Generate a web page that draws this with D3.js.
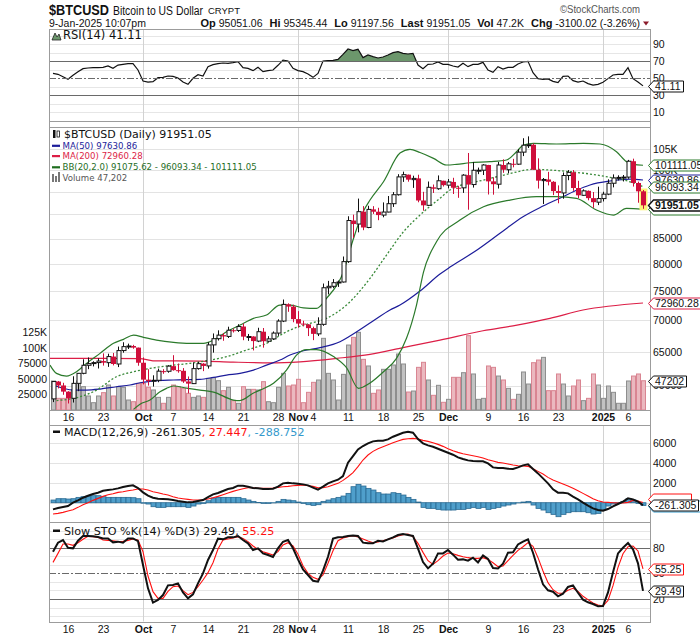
<!DOCTYPE html>
<html><head><meta charset="utf-8">
<script src="https://cdn.jsdelivr.net/npm/d3@7"></script>
<style>body{margin:0;background:#fff}svg{display:block}</style>
</head><body>
<svg id="c" width="700" height="639"></svg>
<script>
// ---------------- DATA ----------------
const firstDay = "2024-09-13";
const lastDay = "2025-01-09";
const open = [58130,60570,60010,59140,58210,60310,61760,62950,63200,63350,
63580,63340,64260,63140,65180,65790,65890,65640,63330,60840,
60630,60750,62080,62060,62820,62220,62130,60580,60270,62450,
63190,62850,66060,67040,67610,67400,68400,68360,69000,67370,
67390,66660,68160,66640,67010,67940,69900,72720,72340,70220,
69480,69350,68740,67810,69360,75640,75900,76550,76680,80470,
88700,87960,90580,87250,91070,90570,89850,90500,92310,94290,
98360,98880,97720,98010,93010,91950,95960,95640,97460,96450,
97190,95860,95840,98770,96590,99920,99930,101170,97320,96670,
101170,100040,101460,101370,104300,106030,106140,100040,97490,97760,
97220,95100,94690,98680,99430,95800,94160,95160,93530,92640,
93430,94420,96890,98110,98240,98310,102080,96950,95051.06];
const high = [60640,60650,60390,59200,61330,61790,63850,64130,63550,63990,
64750,64700,64820,65800,66480,66260,66070,65640,64130,62360,
61470,62450,62370,62970,64470,63200,62530,61300,63380,63450,
63270,66500,67880,68380,67940,68970,68670,69380,69500,67800,
67430,68800,68760,67440,68200,70200,73560,72900,72660,71560,
69950,69390,68980,70520,76400,76880,77210,76940,81450,89600,
89950,93430,91780,91850,91770,91420,92590,94000,94880,98990,
99590,98900,98640,98870,94940,97290,96600,98700,97470,97860,
98150,96300,99000,104090,101900,100550,101370,101200,98270,101900,
102540,101900,102650,105050,107790,108270,106470,102780,98100,99540,
97380,96400,99400,99960,99960,97450,95500,95250,94900,96100,
94960,97800,98950,98730,98800,102400,102700,97260,95345.44];
const low = [57690,59590,58700,57500,57630,59200,61620,62370,62780,62470,
62900,62710,62930,62680,64850,65420,65460,62880,60160,59990,
59850,60470,61690,61850,62150,61850,60380,58900,60220,62300,
62080,62450,64860,66750,66710,67150,68030,68120,66800,66700,
65200,66500,65630,66440,66830,67490,69730,71450,69700,68820,
69020,67460,66810,67460,69120,74460,75560,75790,76580,80230,
85130,86250,86690,87100,90100,88770,89380,90440,91600,94100,
97200,97250,95830,92620,90790,91830,94680,95400,96140,95720,
94450,93600,94700,91000,95900,99000,98800,94340,94300,95680,
99310,99200,100610,101230,103330,105330,100000,95680,92230,96400,
94200,92400,93400,97590,95160,93500,94050,93050,91400,92000,
92800,94200,95950,97530,97300,97920,96130,92520,91197.56];
const close = [60570,60010,59140,58210,60310,61760,62950,63200,63350,63580,
63340,64260,63140,65180,65790,65890,65640,63330,60840,60630,
60750,62080,62060,62820,62220,62130,60580,60270,62450,63190,
62850,66060,67040,67610,67400,68400,68360,69000,67370,67390,
66660,68160,66640,67010,67940,69900,72720,72340,70220,69480,
69350,68740,67810,69360,75640,75900,76550,76680,80470,88700,
87960,90580,87250,91070,90570,89850,90500,92310,94290,98360,
98880,97720,98010,93010,91950,95960,95640,97460,96450,97190,
95860,95840,98770,96590,99920,99930,101170,97320,96670,101170,
100040,101460,101370,104300,106030,106140,100040,97490,97760,97220,
95100,94690,98680,99430,95800,94160,95160,93530,92640,93430,
94420,96890,98110,98240,98310,102080,96950,95050,91951.05];
const volume = [46800,18800,18800,20400,32300,46800,37600,22600,11800,22600,
28000,40300,22600,37600,36600,16100,13400,43000,43000,36600,
32300,20400,10800,20400,40300,37600,34900,26900,20400,22600,
20400,51100,52100,47300,31200,36600,15100,10800,37600,33300,
33300,32300,45700,13400,11800,36600,59100,38700,40300,49500,
11800,28500,44600,48400,115600,59100,48400,16100,57500,104800,
117200,125300,81700,71000,26900,32300,65600,65600,72600,90300,
74200,29000,30600,68800,76900,48400,23700,39800,12400,17200,
52700,52700,60200,119900,58100,17200,18800,71000,68800,54800,
48400,34900,17200,25300,61300,41900,76300,80600,84900,31200,
31200,58100,41900,22600,38700,48400,15100,18800,58100,40300,
18800,38700,28500,10800,10800,46800,54800,58100,47202];

// overlays read at sample points: day offset from firstDay -> value
const ma50Day = [0,4.1,6.7,9.4,12.7,15.4,17.4,19.4,24.1,29.4,32.1,34.7,37.4,40.1,42.7,45.4,47.4,50.1,53.4,57.4,59.4,64,67.4,69.4,73.4,77.4,79.4,84.8,89.4,94,98,102,104.8,107.4,111.4,115.4,118];
const ma50 = [60070,59360,59360,59500,59830,60070,60400,60600,60790,60880,61170,61510,61750,62240,62980,63730,64490,65150,65630,66560,67460,69900,71750,72600,75050,78140,79440,82710,86050,89500,91790,93850,95350,96490,97400,97840,97630.86];
const ma200Day = [-0.8,10,17.4,20,29.4,36,43.4,49.4,56.8,63.4,70,77.4,86,92.8,99.4,106,118];
const ma200 = [63990,63990,63950,63620,63570,63420,63320,63470,63990,64600,65630,66820,68310,69240,70350,71750,72960.28];
const bbUpperDay = [-0.6,0.7,2.7,4.7,6.7,9.4,12.1,14.1,16.1,18.1,20.7,24.1,27.4,30.1,32.1,34.7,37.4,40.1,42.7,45.4,47.4,50.1,52.7,54.7,58.1,60,62,63.4,66.1,69.4,71.4,73.4,76.1,78.7,80.7,83.4,87.4,90.7,92.7,94.1,96.1,100.7,106.1,109.4,112.7,114.7,116.1,118];
const bbUpper = [62980,61750,61360,61990,63230,64750,66310,66940,67620,67250,66820,66460,66310,66310,66820,68150,69240,70350,70900,72600,72600,72130,72040,73770,78570,84690,90500,93110,97240,104080,105000,104200,102780,101170,101330,101710,101960,102370,104400,106080,106500,106330,106500,106330,104400,101960,101330,101111.05];
const bbMidDay = [0.7,5.4,8.7,12.7,16.1,19.4,24.1,27.4,30.7,34.7,38.7,42.7,46.1,47.4,51.4,54.7,58.7,63.4,66.7,70.1,73.4,77.4,79.4,86.1,89.4,92.7,95.7,99.4,103.4,107.4,111.4,114.7,118];
const bbMid = [57900,58420,59350,61260,61990,62480,62980,63230,63630,64240,65260,66310,67890,68430,69520,70350,72600,77340,81730,86370,89860,93490,95350,97630,98560,99500,100140,99970,99570,99030,98260,97470,96093.34];
const bbLowerDay = [16.1,17.4,19.4,21.4,22.7,24.1,26.7,29.4,32.1,36.1,37.4,40.1,41.4,44.1,46.7,48.7,50.7,52.7,56.1,58.7,61.1,63.4,66.1,68.7,70.7,72.7,74.1,76.7,81.4,86.1,91.4,96.7,100.7,104.7,108.7,112.1,114.7,118];
const bbLower = [56700,57410,57970,59120,59600,59930,59640,59350,59080,57970,57900,58940,59350,60310,62240,64490,65340,65340,64260,62600,59600,60360,61990,63990,67100,72600,78510,84350,88800,91640,93110,93850,93850,93490,90940,89860,91300,91075.62];

const rsi = [55.8,54.7,51.9,48.8,53.5,57.8,61.3,62.1,62.5,62.5,
62.9,64.5,61.7,65.6,66.4,67.2,67.2,59.8,46.8,45.6,
46,50.7,51.1,52.7,52.3,50.4,45.6,42.9,50,54.3,
52.7,63.7,66,67.2,68,67.6,68.4,69.6,62.5,61.7,
59,62.9,57.8,59,59.8,65.3,71.5,70.4,61.7,59,
57.8,55,51.1,55.8,70.4,70.8,71.1,72.3,78.2,84.5,
82.5,84.1,74.3,77.4,75.5,73.9,75.1,77.4,80.2,81.4,
79.4,78.6,79.4,65.6,61.3,66.4,66.8,69.2,66.4,66.4,
64.5,63.3,67.6,63.7,66.4,66.4,68.8,59.8,57,63.7,
60.9,62.9,62.9,66.8,69.2,70,56.6,49.6,48.8,49.2,
46.4,44.9,52.3,52.7,47.2,45.6,46.8,43.7,42.1,42.9,
45.3,49.6,53.9,54.7,54.7,62.5,49.6,45.6,41.11];
const macd = [-667,-533,-433,-333,0,233,500,700,867,1000,
1200,1267,1333,1433,1567,1667,1733,1467,1033,700,
500,400,367,333,267,167,100,33,67,167,
267,567,833,967,1167,1367,1467,1700,1700,1600,
1467,1433,1367,1367,1400,1600,1933,2000,1933,1900,
1833,1733,1500,1300,1600,1933,2133,2300,2667,4000,
4667,5333,5667,5933,6133,6200,6200,6333,6600,6800,
7000,7100,7000,6367,5933,5733,5600,5400,5200,5000,
4800,4533,4367,4233,4167,4133,4133,3933,3533,3467,
3467,3400,3367,3533,3733,3833,3367,2933,2433,1933,
1333,1000,1000,933,600,333,0,-300,-567,-733,
-800,-633,-367,-133,100,433,333,100,-261.305];
const macdSignal = [-1133,-1067,-967,-833,-700,-467,-200,0,233,433,
633,800,900,1033,1100,1200,1267,1367,1367,1267,
1100,1000,867,767,600,467,400,333,267,267,
267,367,500,633,800,967,1133,1267,1400,1500,
1500,1433,1433,1433,1467,1533,1600,1633,1700,1733,
1767,1700,1633,1500,1500,1600,1767,1933,2233,2600,
3000,3600,4267,4767,5133,5400,5600,5800,6000,6167,
6333,6400,6433,6367,6233,6133,6000,5833,5633,5400,
5200,5033,4900,4800,4700,4600,4467,4300,4167,4033,
3967,3867,3767,3700,3667,3633,3400,3133,2867,2533,
2267,2067,1867,1667,1433,1200,933,667,400,200,
67,33,0,-33,-33,33,233,167,27.447];
const macdHist = [267,400,400,367,400,533,600,667,700,700,
600,533,533,533,533,533,500,400,-50,-133,
-400,-467,-467,-400,-400,-400,-400,-467,-333,-133,
-67,200,467,533,533,533,533,533,400,267,
133,20,-67,-67,-20,133,333,267,200,67,
-67,-200,-267,-200,133,267,400,533,667,933,
1600,1833,1667,1433,1267,1000,867,867,1000,933,
767,533,333,67,-467,-567,-567,-667,-733,-733,
-733,-667,-667,-567,-467,-567,-467,-667,-567,-467,
-333,-233,-133,-20,67,133,-233,-567,-733,-1000,
-1167,-1400,-1167,-1000,-900,-900,-900,-1000,-1133,-1067,
-667,-333,-133,-20,133,400,267,-67,-288.752];
const stoK = [75.3,85.8,88.9,79.9,79.2,88.1,93.6,93.6,93.2,92.4,
90.8,90.8,86.2,87,85.8,90.8,90.8,87.7,59.7,32.5,
15.8,18.9,24.7,36,36.4,38.3,27.8,20.8,25.5,38.3,
50,65.6,77.2,90.5,89.7,92,92,93.6,88.9,85,
77.2,79.2,73.3,71.4,69.1,79.2,86.9,88.9,79.2,66.3,
54.7,48.1,41.4,40.3,53.1,69.4,90.5,92,92.4,93.6,
94.3,93.6,85.8,85,85,88.1,87.3,89.7,92,94.7,
95.9,94.7,93.6,78.8,63.2,55.8,61.3,73.3,73.3,77.2,
71.8,65.9,66.3,64.8,68.3,62.8,71,66.7,56.2,55.8,
61.3,74.1,74.5,83.8,87,89.7,74.1,54.7,37.2,30.2,
28.6,23.2,26.3,34.1,36,27.4,19.3,16.2,14.2,11.5,
11.9,27.8,51.2,73.3,79.9,85.4,78,61.7,29.49];
const stoD = [62.8,73.3,84.2,84.2,82.7,85.8,89.7,93.2,92.8,92,
88.9,88.5,88.1,87,87.3,88.5,90,88.9,75.3,46.9,
28.6,20.8,20.8,29,34.4,35.2,29.8,25.1,27.8,34.4,
42.2,50.8,62.4,78.4,88.9,90,91.2,92.8,90.8,87,
81.9,78,75.3,73.3,71.4,75.3,83.1,85.8,81.9,72.2,
58.9,50,45.3,43,48.1,61.7,76.4,88.1,91.2,92.8,
94,92.4,90,87.7,85.8,86.6,88.1,89.7,91.2,93.6,
95.1,95.9,92.8,85,74.5,64.8,60.5,64.8,70.2,73.7,
72.9,71,69.4,68.3,67.5,67.5,68.3,66.3,62.4,57.8,
58.6,64.8,71,76.8,81.1,85.8,81.5,68.3,52.7,39.1,
30.9,26.7,26.7,30.2,32.5,29,23.2,19.3,15.4,13,
11.9,18.5,35.6,57,72.9,81.1,81.9,76.1,55.25];

const priceTicks = [60000,65000,70000,75000,80000,85000,90000,95000,100000,105000];
const priceLabelTicks = [60000,65000,70000,75000,80000,85000,100000,105000];
const volumeTicks = [25000,50000,75000,100000,125000];
const rsiTicks = [10,30,50,70,90];
const stoTicks = [20,50,80];
const macdTicks = [2000,4000,6000];
const macdGridVals = [-2000,0,2000,4000,6000];
const dateTicks = ["2024-09-16","2024-09-23","2024-10-01","2024-10-07","2024-10-14","2024-10-21","2024-10-28","2024-11-01","2024-11-04","2024-11-11","2024-11-18","2024-11-25","2024-12-01","2024-12-09","2024-12-16","2024-12-23","2025-01-01","2025-01-06"];
const dateTickLabels = ["16","23","Oct","7","14","21","28","Nov","4","11","18","25","Dec","9","16","23","2025","6"];
const monthStarts = ["2024-10-01","2024-11-01","2024-12-01","2025-01-01"];

// ---------------- LAYOUT ----------------
const FONT = "'Liberation Sans', Arial, sans-serif";
const VFONT = "'DejaVu Sans', Verdana, sans-serif";
const RED = "#cf0f3b";
const L = 49, R = 650;
const P = {rsi:[29,121], main:[127,410], macd:[425,521.5], sto:[521.5,621.5]};
const DAY = 864e5;
const parse = d3.utcParse("%Y-%m-%d");
const t0 = parse(firstDay).getTime();
const dates = d3.utcDay.range(parse(firstDay), d3.utcDay.offset(parse(lastDay), 1));
const x = d3.scaleUtc().domain([new Date(t0 - 0.8*DAY), new Date(t0 + 119.4*DAY)]).range([L, R]);
const xd = d => x(new Date(t0 + d*DAY));

const yRsi = d3.scaleLinear().domain([0,100]).range([120.8, 35.8]);
const yPrice = d3.scaleLog().domain([56620,110700]).range([410,127]);
const yVol = d3.scaleLinear().domain([0,25000]).range([410,394.5]);
const yMacd = d3.scaleLinear().domain([0,2000]).range([502.7,482.7]);
const ySto = d3.scaleLinear().domain([0,100]).range([616.2,530.5]);

const svg = d3.select("#c");
svg.append("rect").attr("width",700).attr("height",639).attr("fill","#fff");
const defs = svg.append("defs");
Object.entries(P).forEach(([k,[a,b]]) => {
  defs.append("clipPath").attr("id","clip-"+k).append("rect").attr("x",L).attr("y",a).attr("width",R-L).attr("height",b-a);
});
const crisp = v => Math.round(v) + 0.5;

// grids
function hGrid(vals, y, color, panel) {
  svg.append("g").selectAll("line").data(vals).join("line")
    .attr("x1",L).attr("x2",R).attr("y1",d=>crisp(y(d))).attr("y2",d=>crisp(y(d)))
    .attr("stroke",color).attr("stroke-width",1).attr("clip-path","url(#clip-"+panel+")");
}
hGrid(d3.range(0,101,10).filter(v=>v!==30&&v!==50&&v!==70), yRsi, "#e6e6e6", "rsi");
hGrid(priceTicks, yPrice, "#e3e3e3", "main");
hGrid(macdGridVals, yMacd, "#e3e3e3", "macd");
hGrid(d3.range(0,101,10).filter(v=>v!==20&&v!==50&&v!==80), ySto, "#e6e6e6", "sto");
Object.entries(P).forEach(([k,[a,b]]) => {
  svg.append("g").selectAll("line").data(monthStarts).join("line")
    .attr("x1",d=>crisp(x(parse(d)))).attr("x2",d=>crisp(x(parse(d))))
    .attr("y1",a).attr("y2",b).attr("stroke","#d2d2d2");
});

function refLine(v, y, dash) {
  svg.append("line").attr("x1",L).attr("x2",R).attr("y1",crisp(y(v))).attr("y2",crisp(y(v)))
    .attr("stroke","#6a6a6a").attr("stroke-dasharray",dash||null);
}

// ---------------- RSI ----------------
const gR = svg.append("g").attr("clip-path","url(#clip-rsi)");
defs.append("clipPath").attr("id","clip-rsi70").append("rect").attr("x",L).attr("y",P.rsi[0]).attr("width",R-L).attr("height",yRsi(70)-P.rsi[0]);
gR.append("path").attr("clip-path","url(#clip-rsi70)")
  .attr("d", d3.area().x((d,i)=>x(dates[i])).y0(yRsi(70)).y1(d=>yRsi(d))(rsi))
  .attr("fill","#6c976c");
refLine(70,yRsi); refLine(30,yRsi); refLine(50,yRsi,"7,2,2,2");
gR.append("path").attr("d", d3.line().x((d,i)=>x(dates[i])).y(d=>yRsi(d))(rsi))
  .attr("fill","none").attr("stroke","#111").attr("stroke-width",1.2);

// ---------------- MAIN ----------------
const gM = svg.append("g").attr("clip-path","url(#clip-main)");
const upDay = i => i===0 ? close[0]>=open[0] : close[i]>=close[i-1];
gM.append("g").selectAll("rect").data(volume).join("rect")
  .attr("x",(d,i)=>Math.round(x(dates[i]))-2+0.5).attr("width",4)
  .attr("y",d=>yVol(d)).attr("height",d=>yVol(0)-yVol(d))
  .attr("fill",(d,i)=>upDay(i)?"#c2c2c2":"#ebb8bf")
  .attr("stroke",(d,i)=>upDay(i)?"#8e8e8e":"#d98592").attr("stroke-width",1);

const ovl = (days, vals, color, w, dash) => gM.append("path")
  .attr("d", d3.line().curve(d3.curveMonotoneX).x((d,i)=>xd(days[i])).y(d=>yPrice(d))(vals))
  .attr("fill","none").attr("stroke",color).attr("stroke-width",w).attr("stroke-dasharray",dash||null);
ovl(ma200Day, ma200, "#dc1e46", 1.2);
ovl(ma50Day, ma50, "#1c1c9a", 1.2);
ovl(bbUpperDay, bbUpper, "#2b7a2b", 1.2);
ovl(bbLowerDay, bbLower, "#2b7a2b", 1.2);
ovl(bbMidDay, bbMid, "#3a8a3a", 1.3, "2,2");

const li = close.length-1;
gM.append("rect").attr("x",Math.round(x(dates[li]))-3.5).attr("width",8)
  .attr("y",yPrice(high[li])-1.5).attr("height",yPrice(low[li])-yPrice(high[li])+3).attr("fill","#fbf57a");

const cg = gM.append("g").selectAll("g").data(close).join("g");
cg.append("line")
  .attr("x1",(d,i)=>crisp(x(dates[i]))).attr("x2",(d,i)=>crisp(x(dates[i])))
  .attr("y1",(d,i)=>yPrice(high[i])).attr("y2",(d,i)=>yPrice(low[i]))
  .attr("stroke",(d,i)=>upDay(i)?"#111":RED);
cg.append("rect")
  .attr("x",(d,i)=>Math.round(x(dates[i]))-1.5+ (close[i]>open[i]?0.5:-0.5))
  .attr("width",(d,i)=>close[i]>open[i]?4:5)
  .attr("y",(d,i)=>yPrice(Math.max(open[i],close[i])))
  .attr("height",(d,i)=>Math.max(1,Math.abs(yPrice(open[i])-yPrice(close[i]))))
  .attr("fill",(d,i)=>close[i]>open[i]?"#fff":(upDay(i)?"#111":RED))
  .attr("stroke",(d,i)=>close[i]>open[i]?"#111":"none").attr("stroke-width",1);

// ---------------- MACD ----------------
const gC = svg.append("g").attr("clip-path","url(#clip-macd)");
gC.append("g").selectAll("rect").data(macdHist).join("rect")
  .attr("x",(d,i)=>Math.round(x(dates[i]))-2.5+0.5).attr("width",5)
  .attr("y",d=>Math.min(yMacd(d),yMacd(0))).attr("height",d=>Math.abs(yMacd(d)-yMacd(0)))
  .attr("fill","#4f9fcb").attr("stroke","#2a6a92").attr("stroke-width",0.8);
gC.append("path").attr("d", d3.line().x((d,i)=>x(dates[i])).y(d=>yMacd(d))(macdSignal))
  .attr("fill","none").attr("stroke","#ff1010").attr("stroke-width",1.1);
gC.append("path").attr("d", d3.line().x((d,i)=>x(dates[i])).y(d=>yMacd(d))(macd))
  .attr("fill","none").attr("stroke","#111").attr("stroke-width",2);

// ---------------- STO ----------------
refLine(80,ySto); refLine(20,ySto); refLine(50,ySto,"7,2,2,2");
const gS = svg.append("g").attr("clip-path","url(#clip-sto)");
gS.append("path").attr("d", d3.line().x((d,i)=>x(dates[i])).y(d=>ySto(d))(stoD))
  .attr("fill","none").attr("stroke","#ff1010").attr("stroke-width",1.1);
gS.append("path").attr("d", d3.line().x((d,i)=>x(dates[i])).y(d=>ySto(d))(stoK))
  .attr("fill","none").attr("stroke","#111").attr("stroke-width",2);

// ---------------- FRAMES ----------------
Object.values(P).forEach(([a,b]) => {
  svg.append("rect").attr("x",L+0.5).attr("y",Math.round(a)+0.5).attr("width",R-L).attr("height",Math.round(b)-Math.round(a))
    .attr("fill","none").attr("stroke","#9c9c9c");
});
svg.append("line").attr("x1",L+0.5).attr("x2",L+0.5).attr("y1",29).attr("y2",622).attr("stroke","#9c9c9c");
svg.append("line").attr("x1",R+0.5).attr("x2",R+0.5).attr("y1",29).attr("y2",622).attr("stroke","#9c9c9c");

// ---------------- AXES ----------------
const kfmt = v => v>=100000 ? (v/1000)+"K" : String(v);
function rightAxis(scale, ticks, fmt) {
  const g = svg.append("g").attr("transform",`translate(${R+3},0)`)
    .call(d3.axisRight(scale).tickValues(ticks).tickFormat(fmt).tickSize(0).tickPadding(0));
  g.select(".domain").remove();
  g.selectAll("text").style("font-family",FONT).style("font-size","10.5px").attr("fill","#111");
}
rightAxis(yRsi, rsiTicks, d3.format("d"));
rightAxis(yPrice, priceLabelTicks, kfmt);
rightAxis(yMacd, macdTicks, d3.format("d"));
rightAxis(ySto, stoTicks, d3.format("d"));
{
  const g = svg.append("g").attr("transform",`translate(${L-2},0)`)
    .call(d3.axisLeft(yVol).tickValues(volumeTicks).tickFormat(kfmt).tickSize(0).tickPadding(0));
  g.select(".domain").remove();
  g.selectAll("text").style("font-family",FONT).style("font-size","10.5px").attr("fill","#111");
}
function bottomAxis(yPos) {
  const g = svg.append("g").attr("transform",`translate(0,${yPos})`)
    .call(d3.axisBottom(x).tickValues(dateTicks.map(parse)).tickFormat((d,i)=>dateTickLabels[i]).tickSize(0).tickPadding(0));
  g.select(".domain").remove();
  g.selectAll("text").style("font-family",FONT).style("font-size","10.5px").attr("fill","#111")
    .style("font-weight",(d,i)=>/^[A-Z2]/.test(dateTickLabels[i]) && dateTickLabels[i].length>2 ? "bold":"normal");
}
bottomAxis(413.5);
bottomAxis(625.5);

// ---------------- VALUE BOXES ----------------
function valueBox(yv, label, stroke, bold, sw, hidden) {
  const g = svg.append("g");
  const path = g.append("path");
  let w;
  if (hidden) { w = label.length * 5.6; }
  else {
    const t = g.append("text").attr("x",655).attr("y",yv).attr("dy","0.36em")
      .style("font-family",FONT).style("font-size","10.5px").style("font-weight",bold?"bold":"normal")
      .attr("fill","#111").text(label);
    w = t.node().getComputedTextLength();
  }
  const x0 = 648.5, x1 = Math.round(655+w+2)+0.5, h = 5.5, yy = Math.round(yv)+0.5;
  path.attr("d",`M${x0},${yy}L${x0+5},${yy-h}L${x1},${yy-h}L${x1},${yy+h}L${x0+5},${yy+h}Z`)
    .attr("fill","#fff").attr("stroke",stroke).attr("stroke-width",sw||1);
}
valueBox(yRsi(rsi[li]), "41.11", "#111");
valueBox(yPrice(ma200[ma200.length-1]), "72960.28", "#dc1e46");
valueBox(yVol(volume[li]), "47202", "#111");
valueBox(yPrice(bbUpper[bbUpper.length-1]), "101111.05", "#2b7a2b");
valueBox(yPrice(ma50[ma50.length-1]), "97630.86", "#1c1c9a");
valueBox(yPrice(bbMid[bbMid.length-1]), "96093.34", "#2b7a2b");
valueBox(yPrice(bbLower[bbLower.length-1]), "91075.62", "#2b7a2b", false, 1, true);
valueBox(yPrice(close[li]), "91951.05", "#111", true, 1.4);
valueBox(yMacd(macdHist[li]), "-288.752", "#3399cc", false, 1, true);
valueBox(yMacd(macdSignal[li]) - 3, "27.447", "#ff1010", false, 1, true);
valueBox(yMacd(macd[li]), "-261.305", "#111");
valueBox(ySto(stoD[li]), "55.25", "#ff1010");
valueBox(ySto(stoK[li]), "29.49", "#111");

// ---------------- LEGENDS ----------------
function legend(xp, yp, parts, size) {
  const t = svg.append("text").attr("x",xp).attr("y",yp).attr("dy","0.36em")
    .style("font-family",VFONT).style("font-size",size+"px");
  parts.forEach(([s,c]) => t.append("tspan").attr("fill",c).text(s));
}
svg.append("path").attr("d","M52,40 L55,33 L57,37 L59,34 L61,40 Z").attr("fill","#6c976c").attr("stroke","#222").attr("stroke-width",0.8);
legend(63, 35, [["RSI(14) 41.11","#111"]], 11.5);
svg.append("rect").attr("x",53).attr("y",130).attr("width",2.5).attr("height",8).attr("fill","#111");
svg.append("rect").attr("x",57).attr("y",131).attr("width",2.5).attr("height",6).attr("fill","#fff").attr("stroke","#111").attr("stroke-width",0.8);
legend(64, 134.3, [["$BTCUSD (Daily) 91951.05","#111"]], 11);
[["MA(50) 97630.86","#1c1c9a",145.7],["MA(200) 72960.28","#dc1e46",156],["BB(20,2.0) 91075.62 - 96093.34 - 101111.05","#1f6e1f",167.2]]
  .forEach(([s,c,yy]) => {
    svg.append("rect").attr("x",52).attr("y",yy-1).attr("width",8).attr("height",2.2).attr("fill",c);
    legend(62.5, yy, [[s,c]], 8.6);
  });
[[52,174,8],[55,176,6],[58,172,10]].forEach(([bx,by,bh]) =>
  svg.append("rect").attr("x",bx).attr("y",by).attr("width",2).attr("height",bh).attr("fill","#777"));
legend(62.5, 177.7, [["Volume 47,202","#555"]], 8.6);
svg.append("rect").attr("x",53).attr("y",430.5).attr("width",7).attr("height",2.5).attr("fill","#111");
legend(64, 431.8, [["MACD(12,26,9) -261.305","#111"],[", 27.447","#ff1010"],[", -288.752","#3399cc"]], 11.1);
svg.append("rect").attr("x",53).attr("y",529.5).attr("width",7).attr("height",2.5).attr("fill","#111");
legend(64, 530.8, [["Slow STO %K(14) %D(3) 29.49, ","#111"],["55.25","#ff1010"]], 11.2);

// ---------------- HEADER ----------------
svg.append("text").attr("x",49).attr("y",14.5).style("font-family",FONT).style("font-size","14px").style("font-weight","bold")
  .attr("textLength",60).attr("lengthAdjust","spacingAndGlyphs").attr("fill","#111").text("$BTCUSD");
svg.append("text").attr("x",113).attr("y",14.5).style("font-family",FONT).style("font-size","12px")
  .attr("textLength",90).attr("lengthAdjust","spacingAndGlyphs").attr("fill","#111").text("Bitcoin to US Dollar");
svg.append("text").attr("x",208).attr("y",14).style("font-family",FONT).style("font-size","9.5px")
  .attr("textLength",32).attr("lengthAdjust","spacing").attr("fill","#111").text("CRYPT");
svg.append("text").attr("x",49).attr("y",26.5).style("font-family",FONT).style("font-size","10.5px").attr("fill","#111").text("9-Jan-2025 10:07pm");
svg.append("text").attr("x",640).attr("y",13).attr("text-anchor","end").style("font-family",FONT).style("font-size","10.5px")
  .attr("textLength",80).attr("lengthAdjust","spacingAndGlyphs").attr("fill","#555").text("\u00A9StockCharts.com");
{
  const t = svg.append("text").attr("x",640).attr("y",26.5).attr("text-anchor","end")
    .style("font-family",FONT).style("font-size","10.5px").attr("fill","#111");
  const parts = [["Op","95051.06"],["Hi","95345.44"],["Lo","91197.56"],["Last","91951.05"],["Vol","47.2K"],["Chg","-3100.02 (-3.26%)"]];
  parts.forEach(([k,v],j) => {
    t.append("tspan").attr("dx", j===0?0:7).style("font-weight","bold").style("font-size","11px").text(k);
    t.append("tspan").attr("dx",3).text(v);
  });
  svg.append("path").attr("d","M643,21.5 L649,21.5 L646,25.5 Z").attr("fill","#8b1a2a");
}
</script>
</body></html>
